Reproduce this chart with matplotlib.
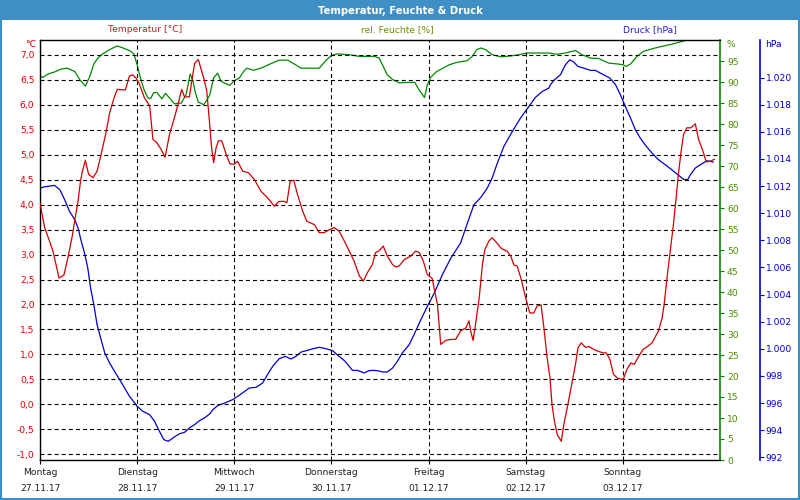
import matplotlib
matplotlib.use("Agg")
import matplotlib.pyplot as plt
from matplotlib.patches import Rectangle
from matplotlib.ticker import FixedLocator, FuncFormatter

# ---------------- data ----------------
days = ["Montag", "Dienstag", "Mittwoch", "Donnerstag", "Freitag", "Samstag", "Sonntag"]
dates = ["27.11.17", "28.11.17", "29.11.17", "30.11.17", "01.12.17", "02.12.17", "03.12.17"]

temp_hours = [0, 1.15, 2.4, 3.2, 4.7, 5.9, 6.9, 7.9, 8.7, 9.4, 10.0, 10.4, 11.2, 12.0, 13.1, 14.1,
              15.1, 16.4, 17.2, 18.3, 19.1, 21.1, 22.1, 22.9, 23.8, 24.6, 25.8, 27.1, 27.9, 28.9,
              29.9, 30.9, 32.0, 33.2, 34.0, 35.0, 35.7, 36.9, 37.5, 38.2, 39.1, 40.4, 41.2, 41.85,
              42.4, 42.9, 43.5, 44.1, 44.9, 46.0, 46.9, 48.0, 48.8, 50.1, 51.5, 52.9, 54.6, 56.2,
              57.9, 58.9, 60.2, 61.0, 61.8, 62.7, 63.6, 64.9, 65.9, 67.8, 69.0, 70.2, 71.5, 72.7,
              73.9, 75.2, 76.4, 77.6, 78.9, 79.9, 80.9, 82.1, 82.9, 83.8, 84.8, 85.8, 87.1, 87.9,
              88.7, 90.0, 91.6, 92.8, 93.7, 94.7, 95.7, 96.9, 97.5, 98.2, 99.0, 100.2, 101.5, 102.7,
              103.9, 105.2, 106.0, 106.4, 107.0, 107.6, 108.5, 109.3, 109.9, 110.9, 111.7, 112.8,
              114.0, 115.4, 116.3, 117.1, 117.9, 118.9, 120.0, 121.0, 122.0, 122.8, 123.8, 124.5,
              125.3, 126.0, 126.5, 127.1, 127.8, 128.8, 129.4, 130.4, 131.5, 132.3, 132.9, 133.7,
              134.8, 135.6, 136.8, 138.0, 139.1, 139.9, 140.8, 141.7, 142.7, 144.1, 145.0, 146.0,
              146.8, 147.9, 149.0, 150.1, 151.2, 152.8, 153.7, 154.2, 154.9, 155.7, 156.4, 157.0,
              157.8, 158.4, 159.0, 159.8, 160.8, 161.9, 162.7, 163.8, 164.6, 165.6, 166.6]
temp_values = [4.03, 3.54, 3.26, 3.07, 2.53, 2.59, 2.94, 3.34, 3.74, 4.07, 4.47, 4.64, 4.89, 4.61, 4.54, 4.67,
               5.01, 5.48, 5.84, 6.14, 6.31, 6.30, 6.58, 6.60, 6.53, 6.41, 6.14, 5.98, 5.31, 5.24,
               5.11, 4.95, 5.41, 5.74, 5.98, 6.31, 6.16, 6.16, 6.48, 6.83, 6.91, 6.55, 6.28, 5.68,
               5.14, 4.84, 5.14, 5.28, 5.28, 5.01, 4.82, 4.81, 4.87, 4.67, 4.64, 4.51, 4.27, 4.14,
               3.97, 4.06, 4.07, 4.04, 4.47, 4.49, 4.21, 3.87, 3.67, 3.60, 3.44, 3.44, 3.50, 3.54,
               3.47, 3.27, 3.07, 2.87, 2.57, 2.47, 2.64, 2.80, 3.04, 3.08, 3.17, 2.97, 2.80, 2.75,
               2.77, 2.90, 2.97, 3.07, 3.04, 2.87, 2.60, 2.52, 2.27, 2.00, 1.20, 1.28, 1.30, 1.30,
               1.47, 1.53, 1.67, 1.47, 1.28, 1.60, 2.13, 2.80, 3.10, 3.27, 3.34, 3.24,
               3.12, 3.07, 2.97, 2.79, 2.77, 2.50, 2.13, 1.83, 1.83, 1.97, 1.99, 1.53,
               0.93, 0.53, -0.01, -0.34, -0.61, -0.74, -0.41, -0.01, 0.46, 0.80, 1.13, 1.23,
               1.14, 1.16, 1.10, 1.06, 1.03, 1.03, 0.90, 0.60, 0.52, 0.50, 0.70, 0.83,
               0.80, 0.96, 1.10, 1.16, 1.23, 1.47, 1.73, 2.00, 2.53, 3.07, 3.54, 4.01,
               4.67, 5.07, 5.41, 5.54, 5.54, 5.62, 5.31, 5.07, 4.86, 4.87, 4.91]

hum_hours = [0, 0.7, 2.0, 3.6, 5.3, 6.7, 8.6, 9.8, 11.2, 12.3, 13.3, 14.3, 15.5, 16.8, 18.0, 19.1,
             20.5, 22.1, 23.2, 24.0, 24.8, 25.7, 26.6, 27.3, 28.1, 28.9, 30.1, 31.0, 32.0, 33.2,
             34.9, 36.1, 37.1, 37.7, 38.3, 39.1, 40.5, 41.9, 42.9, 43.9, 44.7, 45.9, 46.9, 48.0,
             49.3, 50.3, 51.1, 52.8, 54.6, 57.1, 59.1, 61.2, 62.8, 64.5, 66.9, 69.0, 70.6, 72.0,
             73.5, 76.4, 78.9, 82.6, 83.8, 84.6, 85.8, 87.1, 88.7, 90.8, 92.6, 93.6, 94.5, 95.0,
             95.7, 96.5, 98.0, 99.4, 101.1, 103.1, 105.6, 106.8, 107.9, 108.9, 110.1, 111.7, 113.8,
             116.3, 118.3, 120.4, 122.8, 125.7, 127.8, 129.8, 132.3, 133.9, 136.0, 138.0, 140.5,
             142.6, 144.1, 144.8, 145.9, 147.5, 149.1, 151.2, 153.7, 156.1, 159.2, 162.5, 166.6]
hum_values = [91.5, 91.1, 91.9, 92.4, 93.1, 93.3, 92.5, 90.6, 89.0, 91.3, 94.3, 95.7, 96.7, 97.5, 98.1, 98.6,
              98.1, 97.5, 96.7, 94.1, 91.0, 88.2, 86.3, 86.0, 87.5, 87.5, 86.0, 87.3, 86.2, 84.8,
              85.0, 87.0, 91.9, 90.6, 87.8, 85.2, 84.6, 86.8, 91.0, 92.1, 90.2, 89.6, 89.2, 90.3,
              91.0, 92.5, 93.3, 92.8, 93.3, 94.4, 95.2, 95.2, 94.3, 93.3, 93.3, 93.3, 95.1, 96.3,
              96.7, 96.5, 96.1, 96.1, 95.7, 94.1, 91.7, 90.6, 89.8, 89.9, 89.9, 88.2, 87.0, 86.3,
              89.4, 91.1, 92.5, 93.2, 94.1, 94.7, 95.1, 96.1, 97.7, 98.1, 97.7, 96.5, 96.0,
              96.2, 96.5, 96.9, 96.9, 96.9, 96.6, 96.9, 97.5, 96.5, 95.7, 95.6, 94.5,
              94.3, 94.1, 93.7, 94.3, 96.1, 97.3, 97.9, 98.5, 99.0, 99.8, 100.6, 101.2]

pres_hours = [0, 1.2, 3.6, 4.9, 6.1, 7.3, 8.6, 9.4, 10.2, 11.0, 11.8, 12.5, 13.3, 14.1, 15.1, 16.0,
              17.2, 18.4, 19.7, 20.9, 22.1, 23.4, 24.0, 25.4, 27.1, 28.3, 29.5, 30.6, 31.7, 33.2,
              34.5, 35.7, 36.9, 38.2, 39.4, 40.6, 41.9, 42.7, 43.9, 45.6, 47.6, 49.7, 51.7, 53.4,
              55.0, 56.2, 57.5, 59.1, 60.6, 62.0, 63.2, 64.5, 66.1, 67.3, 69.0, 70.6, 72.3, 73.9,
              75.2, 76.4, 77.2, 78.4, 80.1, 81.3, 82.6, 83.8, 84.6, 85.8, 87.1, 88.3, 89.5, 91.2,
              92.4, 94.1, 95.7, 97.4, 99.4, 101.5, 103.9, 105.6, 107.2, 108.9, 110.5, 111.7, 113.0,
              114.6, 116.7, 118.7, 120.8, 122.4, 124.1, 125.7, 126.1, 127.1, 128.6, 129.8, 130.9,
              131.9, 132.9, 134.3, 136.0, 137.2, 138.9, 140.8, 142.2, 143.4, 144.6, 145.9, 147.1,
              148.3, 149.6, 151.2, 152.8, 154.5, 156.1, 157.8, 159.0, 160.0, 160.7, 161.9, 163.1,
              164.8, 166.3]
pres_values = [1011.85, 1011.95, 1012.05, 1011.73, 1010.99, 1010.13, 1009.52, 1008.90, 1007.92, 1007.06,
               1005.96, 1004.48, 1003.25, 1001.78, 1000.67, 999.69, 998.95, 998.34, 997.72, 997.11,
               996.50, 996.00, 995.76, 995.39, 995.14, 994.65, 993.92, 993.30, 993.18, 993.50,
               993.74, 993.84, 994.16, 994.41, 994.70, 994.90, 995.19, 995.51, 995.81, 996.00,
               996.25, 996.67, 997.11, 997.16, 997.48, 998.09, 998.71, 999.27, 999.44, 999.25,
               999.44, 999.76, 999.89, 999.99, 1000.11, 1000.01, 999.86, 999.44, 999.13, 998.71,
               998.41, 998.41, 998.22, 998.39, 998.41, 998.36, 998.29, 998.29, 998.58, 999.08,
               999.69, 1000.30, 1001.04, 1002.15, 1003.13, 1004.11, 1005.46, 1006.69, 1007.80,
               1009.27, 1010.62, 1011.16, 1011.85, 1012.59, 1013.70, 1014.92, 1016.03, 1017.01,
               1017.87, 1018.54, 1018.98, 1019.22, 1019.47, 1019.84, 1020.21, 1020.94, 1021.31,
               1021.14, 1020.82, 1020.70, 1020.53, 1020.53, 1020.26, 1019.96, 1019.47, 1018.73,
               1017.87, 1017.01, 1016.15, 1015.54, 1015.00, 1014.43, 1013.94, 1013.57, 1013.20,
               1012.79, 1012.49, 1012.47, 1012.84, 1013.33, 1013.57, 1013.87, 1013.77]

temp_ticks = [-1.0 + 0.5 * i for i in range(17)]
hum_ticks = list(range(0, 100, 5))
pres_ticks = list(range(992, 1021, 2))

# ---------------- style ----------------
plt.rcParams['font.family'] = ['DejaVu Sans']
plt.rcParams['lines.scale_dashes'] = False
BAR = '#3d8fc6'
RED = '#d00000'
GREEN = '#008800'
BLUE = '#0000d0'
TEMP_LBL = '#e00000'
HUM_LBL = '#4c8c00'
PRES_LBL = '#0000c8'
FS = 6.6

fig = plt.figure(figsize=(8, 5), dpi=100)
fig.patch.set_facecolor('white')
fig.patches.append(Rectangle((0, 0.96), 1, 0.04, transform=fig.transFigure,
                             facecolor=BAR, edgecolor='none', zorder=0))
fig.patches.append(Rectangle((0.001, 0.002), 0.998, 0.996, transform=fig.transFigure,
                             fill=False, edgecolor=BAR, lw=1.5, zorder=0))
fig.text(0.5, 0.979, "Temperatur, Feuchte & Druck", color='white', fontweight='bold',
         ha='center', va='center', fontsize=7.2)

ax = fig.add_axes([0.05, 0.08, 0.85, 0.84])
ax.set_xlim(0, 168)
ax.set_ylim(-1.116, 7.30)

ax.yaxis.set_major_locator(FixedLocator(temp_ticks))
ax.yaxis.set_major_formatter(FuncFormatter(lambda v, p: f"{v:.1f}".replace('.', ',')))
ax.tick_params(axis='y', length=0, pad=4, labelcolor=TEMP_LBL, labelsize=FS)

ax.set_xticks([24 * i for i in range(len(days))])
ax.set_xticklabels([f"{d}\n{t}" for d, t in zip(days, dates)])
for lbl in ax.get_xticklabels():
    lbl.set_linespacing(2.0)
ax.tick_params(axis='x', length=3, width=0.8, color='black', pad=2.5, labelsize=FS, labelcolor='#202020')

grid_kw = dict(color='black', linewidth=0.8, linestyle=(0, (2.9, 2.2)))
ax.grid(True, axis='both', **grid_kw)
ax.set_axisbelow(True)
for s in ['left', 'top', 'bottom']:
    ax.spines[s].set_color('black')
    ax.spines[s].set_linewidth(1.0)
ax.spines['right'].set_visible(False)
ax.text(-0.006, 0.99, "°C", transform=ax.transAxes, ha='right', va='center',
        color=TEMP_LBL, fontsize=FS)

# humidity axis
ax2 = ax.twinx()
ax2.set_ylim(0, 100)
ax2.yaxis.set_major_locator(FixedLocator(hum_ticks))
ax2.yaxis.set_major_formatter(FuncFormatter(lambda v, p: f"{v:.0f}"))
ax2.tick_params(axis='y', length=3, width=0.8, color=GREEN, pad=2, labelcolor=HUM_LBL, labelsize=FS)
ax2.spines['right'].set_color(GREEN)
ax2.spines['right'].set_linewidth(1.2)
for s in ['left', 'top', 'bottom']:
    ax2.spines[s].set_visible(False)
ax2.text(1.009, 0.99, "%", transform=ax2.transAxes, ha='left', va='center',
         color=HUM_LBL, fontsize=FS)

# pressure axis (40 px to the right of the humidity axis)
ax3 = ax.twinx()
ax3.set_ylim(991.80, 1022.77)
ax3.spines['right'].set_position(('outward', 40 * 72 / 100))
ax3.yaxis.set_major_locator(FixedLocator(pres_ticks))
ax3.yaxis.set_major_formatter(FuncFormatter(lambda v, p: f"{v:,.0f}".replace(',', '.')))
ax3.tick_params(axis='y', length=3, width=0.8, color=BLUE, pad=1, labelcolor=PRES_LBL, labelsize=FS)
ax3.spines['right'].set_color(BLUE)
ax3.spines['right'].set_linewidth(1.2)
for s in ['left', 'top', 'bottom']:
    ax3.spines[s].set_visible(False)
ax3.text(1.066, 0.99, "hPa", transform=ax3.transAxes, ha='left', va='center',
         color=PRES_LBL, fontsize=FS)

# series
ax3.plot(pres_hours, pres_values, color=BLUE, linewidth=0.9)
ax2.plot(hum_hours, hum_values, color=GREEN, linewidth=0.9)
ax.plot(temp_hours, temp_values, color=RED, linewidth=0.9, zorder=5)
ax.set_zorder(3)
ax.patch.set_visible(False)

# headers
ax.text(0.154, 1.024, "Temperatur [°C]", transform=ax.transAxes, ha='center', va='center',
        color='#c02020', fontsize=FS)
ax.text(0.526, 1.024, "rel. Feuchte [%]", transform=ax.transAxes, ha='center', va='center',
        color='#6b8e00', fontsize=FS)
ax.text(0.897, 1.024, "Druck [hPa]", transform=ax.transAxes, ha='center', va='center',
        color='#2020c0', fontsize=FS)

fig.savefig("out.png", dpi=100, facecolor='white')
